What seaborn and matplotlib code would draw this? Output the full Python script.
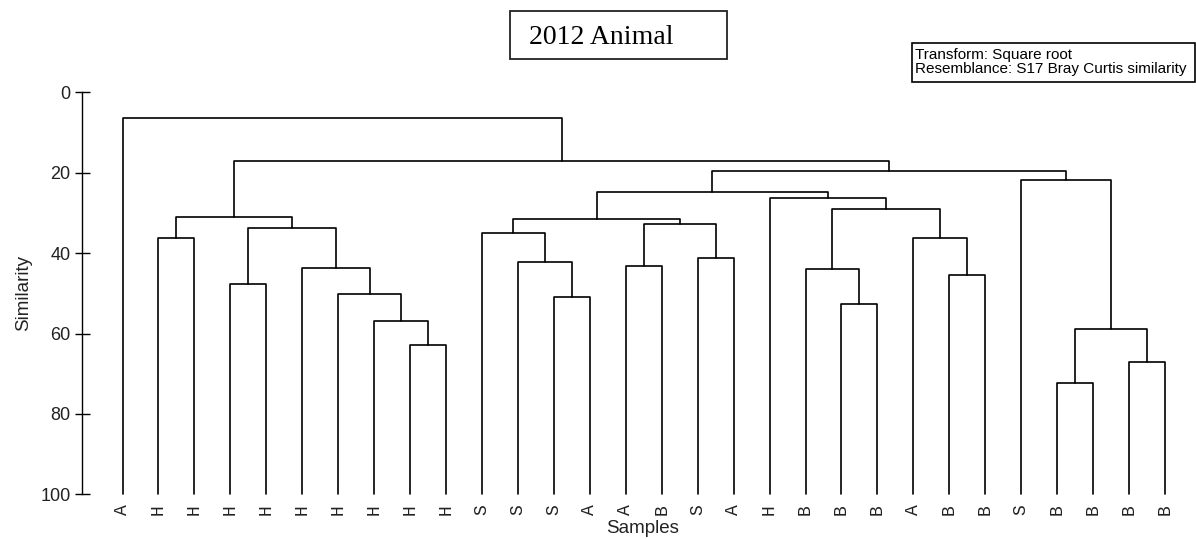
import matplotlib
matplotlib.use("Agg")
import matplotlib.pyplot as plt
from matplotlib.patches import Rectangle
import pandas as pd
import seaborn as sns

# Samples in dendrogram leaf order
sample_labels = ["A", "H", "H", "H", "H", "H", "H", "H", "H", "H",
                 "S", "S", "S", "A", "A", "B", "S", "A", "H", "B",
                 "B", "B", "A", "B", "B", "S", "B", "B", "B", "B"]

# Agglomeration steps: leaves are nodes 0..29, step k creates node 30 + k
merge_left = [26, 28, 8, 30, 7, 20, 12, 6, 3, 23,
              19, 5, 14, 11, 16, 1, 22, 10, 38, 42,
              47, 45, 40, 18, 50, 25, 54, 51, 0]
merge_right = [27, 29, 9, 31, 32, 21, 13, 34, 4, 24,
               35, 37, 15, 36, 17, 2, 39, 43, 41, 44,
               49, 48, 46, 52, 53, 33, 55, 56, 57]
merge_similarity = [72.4, 67.2, 62.8, 58.9, 56.8, 52.6, 50.9, 50.2, 47.7, 45.5,
                    43.9, 43.8, 43.3, 42.2, 41.2, 36.3, 36.3, 34.9, 33.8, 32.8,
                    31.4, 31.1, 29.0, 26.4, 24.9, 21.8, 19.6, 17.0, 6.45]

y_ticks = [0, 20, 40, 60, 80, 100]

# Build the U-shaped links of the dendrogram
n_leaves = len(sample_labels)
node_x = {i: float(i) for i in range(n_leaves)}
node_y = {i: 100.0 for i in range(n_leaves)}
rows = []
for k, (a, b, s) in enumerate(zip(merge_left, merge_right, merge_similarity)):
    xa, xb = node_x[a], node_x[b]
    ya, yb = node_y[a], node_y[b]
    for order, (px, py) in enumerate([(xa, ya), (xa, s), (xb, s), (xb, yb)]):
        rows.append({"link": k, "order": order, "x": px, "y": py})
    node_x[n_leaves + k] = (xa + xb) / 2.0
    node_y[n_leaves + k] = s
links = pd.DataFrame(rows)

sns.set_style("white")
plt.rcParams["font.family"] = ["Liberation Sans", "DejaVu Sans"]

W, H = 1196, 539
fig = plt.figure(figsize=(W / 100, H / 100), dpi=100)

ax_left, ax_right = 81.5, 1185.0
ax_top, ax_bottom = 92.3, 494.3
ax = fig.add_axes([ax_left / W, 1 - ax_bottom / H,
                   (ax_right - ax_left) / W, (ax_bottom - ax_top) / H])

sns.lineplot(data=links, x="x", y="y", units="link", estimator=None,
             sort=False, color="black", linewidth=1.2, clip_on=False,
             legend=False, ax=ax)

spacing = (1165.0 - 122.5) / (n_leaves - 1)
ax.set_xlim(-(122.5 - ax_left) / spacing, (n_leaves - 1) + (ax_right - 1165.0) / spacing)
ax.set_ylim(100, 0)

for side in ["top", "right", "bottom"]:
    ax.spines[side].set_visible(False)
ax.spines["left"].set_linewidth(1.0)
ax.spines["left"].set_color("black")

ax.set_yticks(y_ticks)
ax.set_yticklabels([str(t) for t in y_ticks])
ax.tick_params(axis="y", direction="inout", length=10.8, width=1.0,
               color="black", labelsize=13, labelcolor="#222222", pad=2.4, left=True)

ax.set_xticks(range(n_leaves))
ax.set_xticklabels(sample_labels, rotation=90, family=["Liberation Mono", "DejaVu Sans Mono"],
                   fontsize=13, color="#222222")
ax.tick_params(axis="x", length=0, pad=7)

ax.set_xlabel("Samples", fontsize=13.5, color="#222222")
ax.xaxis.set_label_coords((643 - ax_left) / (ax_right - ax_left),
                          -(520 - ax_bottom) / (ax_bottom - ax_top))
ax.set_ylabel("Similarity", fontsize=13.5, color="#222222")
ax.yaxis.set_label_coords(-(ax_left - 32) / (ax_right - ax_left), 0.5)

# Title inside a framed box
fig.add_artist(Rectangle((510 / W, 1 - 59 / H), (726.7 - 510) / W, 48 / H,
                         transform=fig.transFigure, fill=False,
                         edgecolor="#222222", linewidth=1.3))
fig.text(529 / W, 1 - 44.3 / H, "2012 Animal", family=["Liberation Serif", "DejaVu Serif"],
         fontsize=20, color="black", ha="left", va="baseline")

# Analysis settings box
fig.add_artist(Rectangle((912 / W, 1 - 82.3 / H), (1195 - 912) / W, 39 / H,
                         transform=fig.transFigure, fill=False,
                         edgecolor="black", linewidth=1.2))
fig.text(915 / W, 1 - 58.5 / H, "Transform: Square root", fontsize=11,
         color="black", ha="left", va="baseline")
fig.text(915 / W, 1 - 72.5 / H, "Resemblance: S17 Bray Curtis similarity", fontsize=11,
         color="black", ha="left", va="baseline")

fig.savefig("out.png", dpi=100)
